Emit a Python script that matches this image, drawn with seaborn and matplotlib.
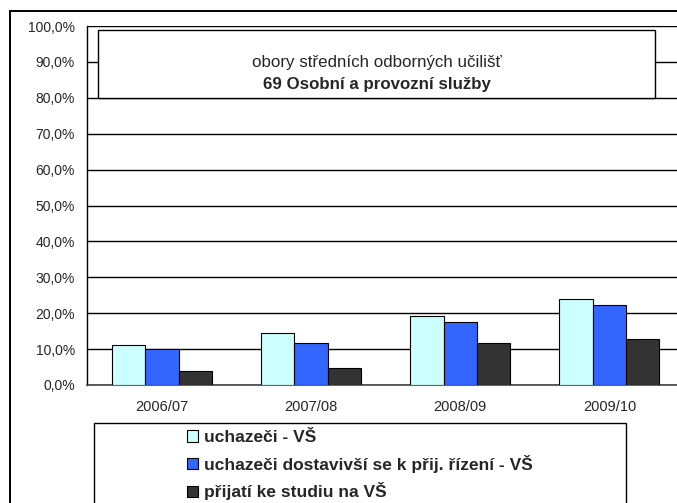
#%% imports
import numpy as np
import pandas as pd
import matplotlib
matplotlib.use('Agg')
import matplotlib.pyplot as plt
from matplotlib.patches import Rectangle, Patch
from matplotlib.ticker import FuncFormatter, FixedLocator
import seaborn as sns

#%% data
roky = ['2006/07', '2007/08', '2008/09', '2009/10']
serie = ['uchazeči - VŠ',
         'uchazeči dostavivší se k přij. řízení - VŠ',
         'přijatí ke studiu na VŠ']
uchazeci = [11.1, 14.4, 19.2, 23.9]
dostavivsi = [10.1, 11.8, 17.6, 22.3]
prijati = [4.0, 4.6, 11.8, 12.7]
barvy = ['#CCFFFF', '#3366FF', '#333333']

nadpis1 = 'obory středních odborných učilišť'
nadpis2 = '69 Osobní a provozní služby'

df = pd.DataFrame({
    'rok': roky * 3,
    'serie': [serie[0]] * 4 + [serie[1]] * 4 + [serie[2]] * 4,
    'hodnota': uchazeci + dostavivsi + prijati,
})

#%% plot
sns.set_style('white')
plt.rcParams['font.family'] = ['Liberation Sans', 'DejaVu Sans']

fig = plt.figure(figsize=(6.77, 5.03), dpi=100)
ax = fig.add_axes([0.129, 0.2346, 0.8814, 0.7137])

sns.barplot(data=df, x='rok', y='hodnota', hue='serie', palette=barvy,
            width=0.67, edgecolor='black', linewidth=0.8, legend=False,
            saturation=1, ax=ax, zorder=3)

ax.set_ylim(0, 100)
ax.set_xlim(-0.5, 3.5)
ax.set_yticks(np.arange(0, 101, 10))
ax.yaxis.set_major_formatter(FuncFormatter(lambda v, p: ('%.1f%%' % v).replace('.', ',')))
ax.grid(axis='y', color='black', linewidth=1)
ax.set_axisbelow(True)
ax.set_xlabel('')
ax.set_ylabel('')

for s in ['top', 'right']:
    ax.spines[s].set_visible(False)
ax.spines['left'].set_color('black')
ax.spines['bottom'].set_color('#444444')
ax.spines['left'].set_linewidth(1)
ax.spines['bottom'].set_linewidth(1.2)

ax.tick_params(axis='y', length=4, width=1, color='black', pad=5, labelsize=10)
ax.tick_params(axis='x', which='major', length=0, pad=11, labelsize=10.5)
ax.xaxis.set_minor_locator(FixedLocator([0.5, 1.5, 2.5]))
ax.tick_params(axis='x', which='minor', length=4, width=1, color='#444444', direction='out')

# title box
ax.add_patch(Rectangle((0.0184, 0.80), 0.9325, 0.19, transform=ax.transAxes,
                       facecolor='white', edgecolor='black', linewidth=1, zorder=4))
ax.text(0.486, 0.897, nadpis1, transform=ax.transAxes, ha='center', va='center',
        fontsize=12.2, zorder=5)
ax.text(0.486, 0.836, nadpis2, transform=ax.transAxes, ha='center', va='center',
        fontsize=12.2, fontweight='bold', zorder=5)

# outer frame
fig.patches.append(Rectangle((0.0148, -0.2), 1.2, 0.978 + 0.2, transform=fig.transFigure,
                             facecolor='none', edgecolor='black', linewidth=1.4, clip_on=False))
# legend frame
fig.patches.append(Rectangle((94 / 677, -0.2), (626 - 94) / 677, 1 - 423 / 503 + 0.2,
                             transform=fig.transFigure, facecolor='none',
                             edgecolor='black', linewidth=1, clip_on=False))

handles = [Patch(facecolor=c, edgecolor='black', linewidth=0.8) for c in barvy]
fig.legend(handles, serie, loc='upper left', bbox_to_anchor=(187 / 677, 1 - 430 / 503),
           frameon=False, borderpad=0, borderaxespad=0, handlelength=0.64, handleheight=0.64,
           handletextpad=0.36, labelspacing=0.56, prop={'weight': 'bold', 'size': 12.5})

fig.savefig('out.png', dpi=100)
